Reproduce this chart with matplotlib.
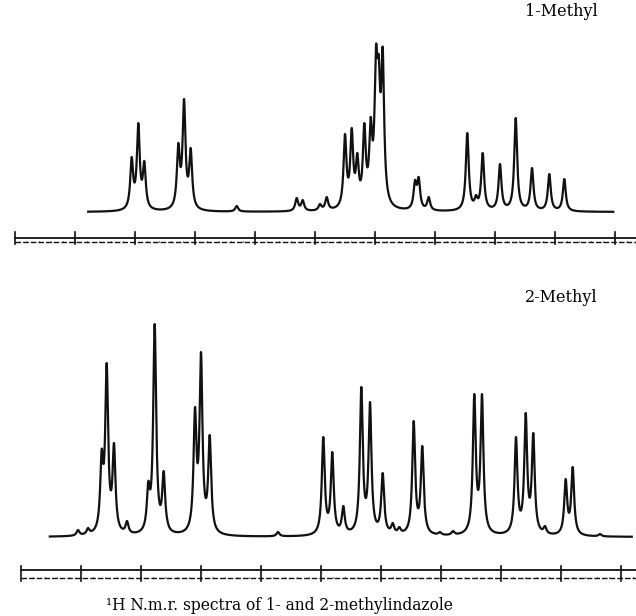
import numpy as np
import matplotlib
matplotlib.use('Agg')
import matplotlib.pyplot as plt

# peak positions in chart divisions (from the left tick of each scale) and heights (arb. units)
top_pos = [1.945, 2.055, 2.155, 2.722, 2.817, 2.928, 3.695, 4.695, 4.795, 5.083, 5.195,
           5.50, 5.612, 5.705, 5.822, 5.928, 6.017, 6.062, 6.128, 6.667, 6.728, 6.895,
           7.538, 7.683, 7.795, 8.083, 8.345, 8.617, 8.905, 9.155]
top_height = [55, 89, 51, 69, 113, 64, 6, 14, 12, 8, 15,
              78, 84, 59, 89, 95, 167, 157, 165, 32, 35, 15,
              79, 17, 59, 48, 94, 44, 38, 33]

bot_pos = [0.95, 1.117, 1.345, 1.428, 1.55, 1.767, 2.122, 2.228, 2.378, 2.433, 2.90, 3.00, 3.145,
           4.283, 5.038, 5.188, 5.372, 5.672, 5.817, 6.028, 6.195, 6.305, 6.545, 6.688,
           6.983, 7.20, 7.555, 7.683, 8.25, 8.412, 8.538, 8.733, 9.078, 9.195, 9.65]
bot_height = [7, 9, 88, 174, 94, 16, 56, 213, 66, 19, 130, 185, 102,
              5, 100, 85, 31, 150, 135, 64, 14, 10, 116, 91,
              5, 6, 143, 143, 100, 124, 104, 11, 58, 70, 3]

top_range = (1.22, 9.97)
bot_range = (0.48, 10.18)
labels = ['1-Methyl', '2-Methyl']
caption = '¹H N.m.r. spectra of 1- and 2-methylindazole'

hw = 0.029  # half width at half height, divisions


def lor(x, x0):
    return 1.0 / (1.0 + ((x - x0) / hw) ** 2)


def spectrum(pos, height, xr):
    pos = np.array(pos)
    height = np.array(height, dtype=float)
    # amplitudes so that the summed trace hits each apex height
    L = lor(pos[:, None], pos[None, :])
    amp = np.clip(np.linalg.solve(L, height), 0.5, None)
    x = np.linspace(xr[0], xr[1], 6000)
    y = (amp[None, :] * lor(x[:, None], pos[None, :])).sum(axis=1)
    return x, y


def scale_bar(ax, x0, x1, y_up, y_lo, tick_lo, tick_hi):
    ax.plot([x0, x1], [y_up, y_up], color='#111111', lw=1.3)
    ax.plot([x0, x1], [y_lo, y_lo], color='#111111', lw=1.0, linestyle=(0, (4, 1.5)))
    for k in range(11):
        ax.plot([k, k], [tick_lo, tick_hi], color='#111111', lw=1.2)
    minor = np.arange(0.2, 10.4, 0.2)
    ax.vlines(minor, y_lo, y_lo + 1.5, color='#111111', lw=0.8)


fig = plt.figure(figsize=(6.36, 6.16), dpi=100)

ax1 = fig.add_axes([0, 1 - 262 / 616, 1, 262 / 616])
x, y = spectrum(top_pos, top_height, top_range)
ax1.plot(x, y, color='#111111', lw=1.6)
scale_bar(ax1, -0.005, 10.4, -26, -30, -20, -32)
ax1.set_xlim(-0.25, 10.35)
ax1.set_ylim(-50, 212)
ax1.axis('off')

ax2 = fig.add_axes([0, 0, 1, 354 / 616])
x, y = spectrum(bot_pos, bot_height, bot_range)
ax2.plot(x, y, color='#111111', lw=1.6)
scale_bar(ax2, -0.005, 10.3, -33, -41, -29, -44)
ax2.set_xlim(-0.35, 10.25)
ax2.set_ylim(-79, 275)
ax2.axis('off')

fig.text(0.882, 1 - 12 / 616, labels[0], ha='center', va='center',
         family='DejaVu Serif', fontsize=11.5)
fig.text(0.882, 1 - 297 / 616, labels[1], ha='center', va='center',
         family='DejaVu Serif', fontsize=11.5)
fig.text(0.44, 1 - 605 / 616, caption, ha='center', va='center',
         family='DejaVu Serif', fontsize=11.2)

fig.savefig('out.png', dpi=100, facecolor='white')
